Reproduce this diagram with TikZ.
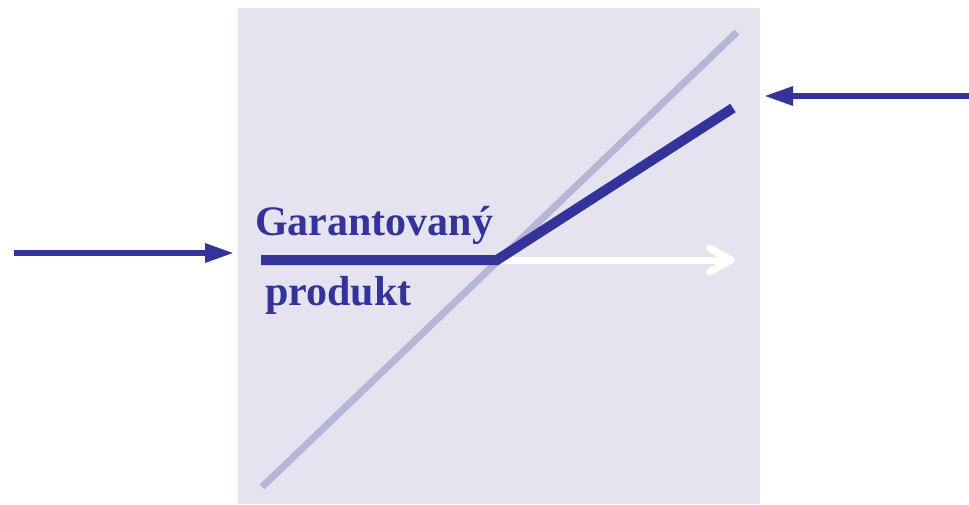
\documentclass[tikz,border=0pt]{standalone}
\usepackage{fontspec}
\setmainfont{Liberation Serif}
\usetikzlibrary{arrows.meta}
\definecolor{deckBlue}{RGB}{51,51,153}
\definecolor{panelLilac}{RGB}{230,227,240}
\definecolor{lineHaze}{RGB}{181,182,214}
\tikzset{
  flowArrow/.style={deckBlue,line width=6pt,-{Triangle[length=29pt,width=18pt]}},
  labelText/.style={anchor=base west,inner sep=0pt,text=deckBlue,
    font=\bfseries\fontsize{42}{44}\selectfont}
}
\begin{document}
\begin{tikzpicture}[x=1pt,y=-1pt]
\useasboundingbox (0,0) rectangle (969,504);
\fill[panelLilac] (238,8) rectangle (760,504);
\coordinate (diagLow) at (262,487);
\coordinate (diagHigh) at (737,32);
\draw[lineHaze,line width=7pt] (diagLow) -- (diagHigh);
\coordinate (floorStart) at (261,260);
\coordinate (kink) at (497,260);
\coordinate (upEnd) at (733,108);
\coordinate (whiteTip) at (735,260);
\draw[white,line width=7pt,line cap=round,
  -{Straight Barb[length=22pt,width=24pt,line cap=round,line join=round]}] (kink) -- (whiteTip);
\draw[deckBlue,line width=10pt,line join=miter] (floorStart) -- (kink) -- (upEnd);
\coordinate (inLeft) at (14,253);
\coordinate (tipLeft) at (234,253);
\coordinate (inRight) at (969,96);
\coordinate (tipRight) at (764,96);
\draw[flowArrow] (inLeft) -- (tipLeft);
\draw[flowArrow] (inRight) -- (tipRight);
\node[labelText] (garant) at (255,235) {Garantovaný};
\node[labelText] (produkt) at (265,305) {produkt};
\end{tikzpicture}
\end{document}
